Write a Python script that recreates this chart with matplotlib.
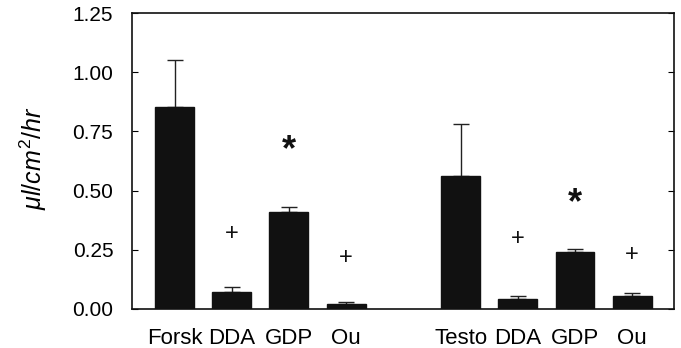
import matplotlib
matplotlib.use("Agg")
import matplotlib.pyplot as plt
import numpy as np

labels = ["Forsk", "DDA", "GDP", "Ou", "Testo", "DDA", "GDP", "Ou"]
positions = [0, 1, 2, 3, 5, 6, 7, 8]
values = [0.852, 0.073, 0.41, 0.021, 0.563, 0.044, 0.241, 0.056]
errors = [0.20, 0.02, 0.02, 0.007, 0.218, 0.011, 0.012, 0.01]
marks = ["", "+", "*", "+", "", "+", "*", "+"]
mark_y = [None, 0.315, 0.70, 0.217, None, 0.294, 0.474, 0.227]

plt.rcParams['font.family'] = ['Liberation Sans', 'DejaVu Sans']
plt.rcParams['mathtext.fontset'] = 'custom'
plt.rcParams['mathtext.it'] = 'Liberation Sans:italic'
plt.rcParams['mathtext.rm'] = 'Liberation Sans'

fig = plt.figure(figsize=(6.81, 3.48), dpi=100)
ax = fig.add_axes([132/681, 1 - 309/348, (674-132)/681, (309-13)/348])

ax.bar(positions, values, width=0.68, color='#111111', edgecolor='#111111', zorder=2)
ax.errorbar(positions, values, yerr=[np.zeros(len(errors)), errors], fmt='none',
            ecolor='#222222', elinewidth=1.0, capsize=5.5, capthick=1.0, zorder=1)

for p, m, y in zip(positions, marks, mark_y):
    if m == "+":
        ax.text(p, y, "+", ha='center', va='center', fontsize=17, color='#111111')
    elif m == "*":
        ax.annotate("*", (p, y), xytext=(0, -5), textcoords='offset points',
                    ha='center', va='center', fontsize=26, fontweight='bold', color='#111111')

ax.set_xlim(-0.743, 8.73)
ax.set_ylim(0, 1.25)
ax.set_yticks([0, 0.25, 0.5, 0.75, 1.0, 1.25])
ax.set_yticklabels(["0.00", "0.25", "0.50", "0.75", "1.00", "1.25"])
ax.set_xticks(positions)
ax.set_xticklabels(labels)
ax.tick_params(axis='y', direction='in', length=4, labelsize=15, pad=13.5, right=True)
ax.tick_params(axis='x', length=0, labelsize=16, pad=14)
for s in ax.spines.values():
    s.set_linewidth(1.2)
    s.set_color('#111111')

fig.text(33.5/681, 1 - 158/348, r'$\mu l/cm^{2}/hr$', rotation=90, ha='center', va='center', fontsize=18)

fig.savefig("out.png", dpi=100)
